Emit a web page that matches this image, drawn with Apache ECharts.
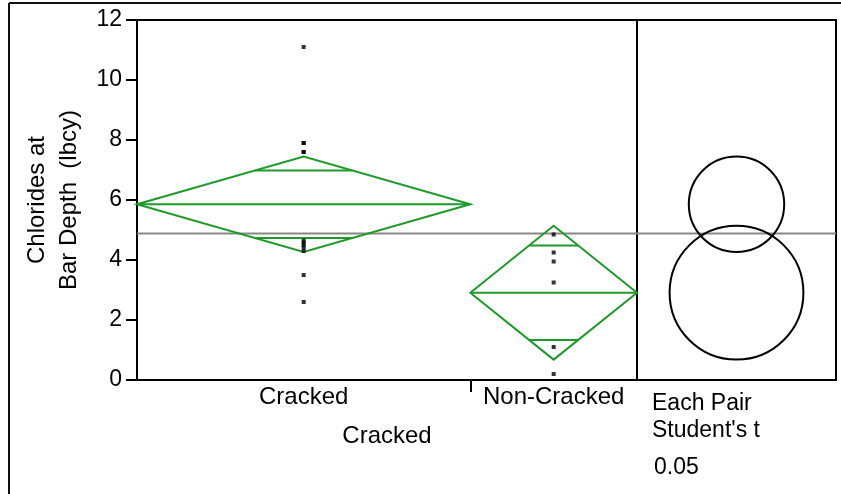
<!DOCTYPE html>
<html>
<head>
<meta charset="utf-8">
<script src="https://cdn.jsdelivr.net/npm/echarts@6/dist/echarts.min.js"></script>
<style>
  html, body { margin: 0; padding: 0; background: #fff; }
  #chart { width: 841px; height: 494px; }
</style>
</head>
<body>
<div id="chart"></div>
<script>
// Chloride content at bar depth, by deck condition (one-way analysis with means diamonds)
const groups = ['Cracked', 'Non-Cracked'];
const sampleSizes = [12, 6];
const crackedValues = [11.1, 7.9, 7.9, 7.6, 7.6, 4.65, 4.58, 4.5, 4.42, 4.3, 3.5, 2.6];
const nonCrackedValues = [4.85, 4.25, 3.95, 3.25, 1.1, 0.2];
const groupMeans = [5.86, 2.91];
const ciHalfWidths = [1.59, 2.23];
const grandMean = 4.88;
const yTicks = [0, 2, 4, 6, 8, 10, 12];
const comparisonLines = ['Each Pair', "Student's t", '0.05'];

const FONT = '"Liberation Sans", Arial, sans-serif';
const GREEN = '#1f9a2a';

// Each group occupies a slice of the x range proportional to its sample size
const groupStart = [];
let acc = 0;
sampleSizes.forEach(n => { groupStart.push(acc); acc += n; });
const xTotal = acc;
const groupCenters = sampleSizes.map((n, i) => groupStart[i] + n / 2);
const groupValues = [crackedValues, nonCrackedValues];

const pointData = [];
groupValues.forEach((vals, i) => vals.forEach(v => pointData.push([groupCenters[i], v])));

const diamondData = groups.map((g, i) => [groupStart[i], groupStart[i] + sampleSizes[i], groupMeans[i], ciHalfWidths[i]]);
const circleData = groups.map((g, i) => [0.5, groupMeans[i], ciHalfWidths[i]]);

function renderDiamond(params, api) {
  const x0 = api.value(0), x1 = api.value(1), m = api.value(2), h = api.value(3);
  const xc = (x0 + x1) / 2;
  const L = api.coord([x0, m]);
  const R = api.coord([x1, m]);
  const T = api.coord([xc, m + h]);
  const B = api.coord([xc, m - h]);
  // overlap marks sit at mean ± h/√2, spanning the diamond at that height
  const d = h / Math.SQRT2;
  const hw = (x1 - x0) / 2 * (1 - 1 / Math.SQRT2);
  const u1 = api.coord([xc - hw, m + d]), u2 = api.coord([xc + hw, m + d]);
  const l1 = api.coord([xc - hw, m - d]), l2 = api.coord([xc + hw, m - d]);
  const style = { stroke: GREEN, fill: 'none', lineWidth: 2 };
  const seg = (a, b) => ({ type: 'line', shape: { x1: a[0], y1: a[1], x2: b[0], y2: b[1] }, style });
  return {
    type: 'group',
    children: [
      { type: 'polygon', shape: { points: [L, T, R, B] }, style },
      seg(L, R),
      seg(u1, u2),
      seg(l1, l2)
    ]
  };
}

function renderCircle(params, api) {
  const c = api.coord([api.value(0), api.value(1)]);
  const r = api.size([0, api.value(2)])[1];
  return {
    type: 'circle',
    shape: { cx: c[0], cy: c[1], r: r },
    style: { stroke: '#000', fill: 'none', lineWidth: 2 }
  };
}

const chart = echarts.init(document.getElementById('chart'), null, { renderer: 'canvas' });

chart.setOption({
  animation: false,
  backgroundColor: '#fff',
  textStyle: { fontFamily: FONT, color: '#000' },
  grid: [
    { left: 137, top: 20, width: 500, height: 360, show: true, borderColor: '#000', borderWidth: 2, backgroundColor: 'transparent' },
    { left: 637, top: 20, width: 199, height: 360, show: true, borderColor: '#000', borderWidth: 2, backgroundColor: 'transparent' }
  ],
  xAxis: [
    {
      gridIndex: 0, type: 'value', min: 0, max: xTotal,
      splitLine: { show: false },
      axisLine: { show: true, onZero: false, lineStyle: { color: '#000', width: 2 } },
      axisTick: { show: true, length: 12, customValues: groupStart.slice(1), lineStyle: { color: '#000', width: 2 } },
      axisLabel: {
        show: true, customValues: groupCenters, margin: 5,
        fontSize: 24, color: '#000', fontFamily: FONT,
        formatter: (v) => groups[groupCenters.indexOf(v)]
      },
      name: groups[0], nameLocation: 'middle', nameGap: 44,
      nameTextStyle: { fontSize: 24, color: '#000', fontFamily: FONT }
    },
    { gridIndex: 1, type: 'value', min: 0, max: 1, show: false }
  ],
  yAxis: [
    {
      gridIndex: 0, type: 'value', min: 0, max: 12, interval: 2,
      splitLine: { show: false },
      axisLine: { show: true, onZero: false, lineStyle: { color: '#000', width: 2 } },
      axisTick: { show: true, length: 11, lineStyle: { color: '#000', width: 2 } },
      axisLabel: { margin: 15, fontSize: 23, color: '#000', fontFamily: FONT, formatter: (v) => yTicks.includes(v) ? String(v) : '' },
      name: 'Chlorides at\nBar Depth  (lbcy)', nameLocation: 'middle', nameRotate: 90, nameGap: 52,
      nameTextStyle: { fontSize: 24, lineHeight: 32, color: '#000', fontFamily: FONT }
    },
    { gridIndex: 1, type: 'value', min: 0, max: 12, show: false }
  ],
  series: [
    {
      type: 'line', xAxisIndex: 0, yAxisIndex: 0, symbol: 'none', silent: true,
      lineStyle: { color: '#888', width: 2 },
      data: [[0, grandMean], [xTotal, grandMean]], z: 1
    },
    {
      type: 'line', xAxisIndex: 1, yAxisIndex: 1, symbol: 'none', silent: true,
      lineStyle: { color: '#888', width: 2 },
      data: [[0, grandMean], [1, grandMean]], z: 1
    },
    {
      type: 'custom', xAxisIndex: 0, yAxisIndex: 0, renderItem: renderDiamond,
      data: diamondData, z: 2, silent: true
    },
    {
      type: 'scatter', xAxisIndex: 0, yAxisIndex: 0, symbol: 'rect', symbolSize: [4, 4],
      itemStyle: { color: '#000' }, data: pointData, z: 3, silent: true
    },
    {
      type: 'custom', xAxisIndex: 1, yAxisIndex: 1, renderItem: renderCircle,
      data: circleData, z: 2, silent: true
    }
  ],
  graphic: [
    { type: 'line', shape: { x1: 9, y1: 3, x2: 841, y2: 3 }, style: { stroke: '#111', lineWidth: 2 }, silent: true },
    { type: 'line', shape: { x1: 9, y1: 3, x2: 9, y2: 494 }, style: { stroke: '#111', lineWidth: 2 }, silent: true },
    { type: 'text', left: 652, top: 392, style: { text: comparisonLines[0], font: '23px ' + FONT, fill: '#000' } },
    { type: 'text', left: 652, top: 419, style: { text: comparisonLines[1], font: '23px ' + FONT, fill: '#000' } },
    { type: 'text', left: 654, top: 456, style: { text: comparisonLines[2], font: '23px ' + FONT, fill: '#000' } }
  ]
});
</script>
</body>
</html>
